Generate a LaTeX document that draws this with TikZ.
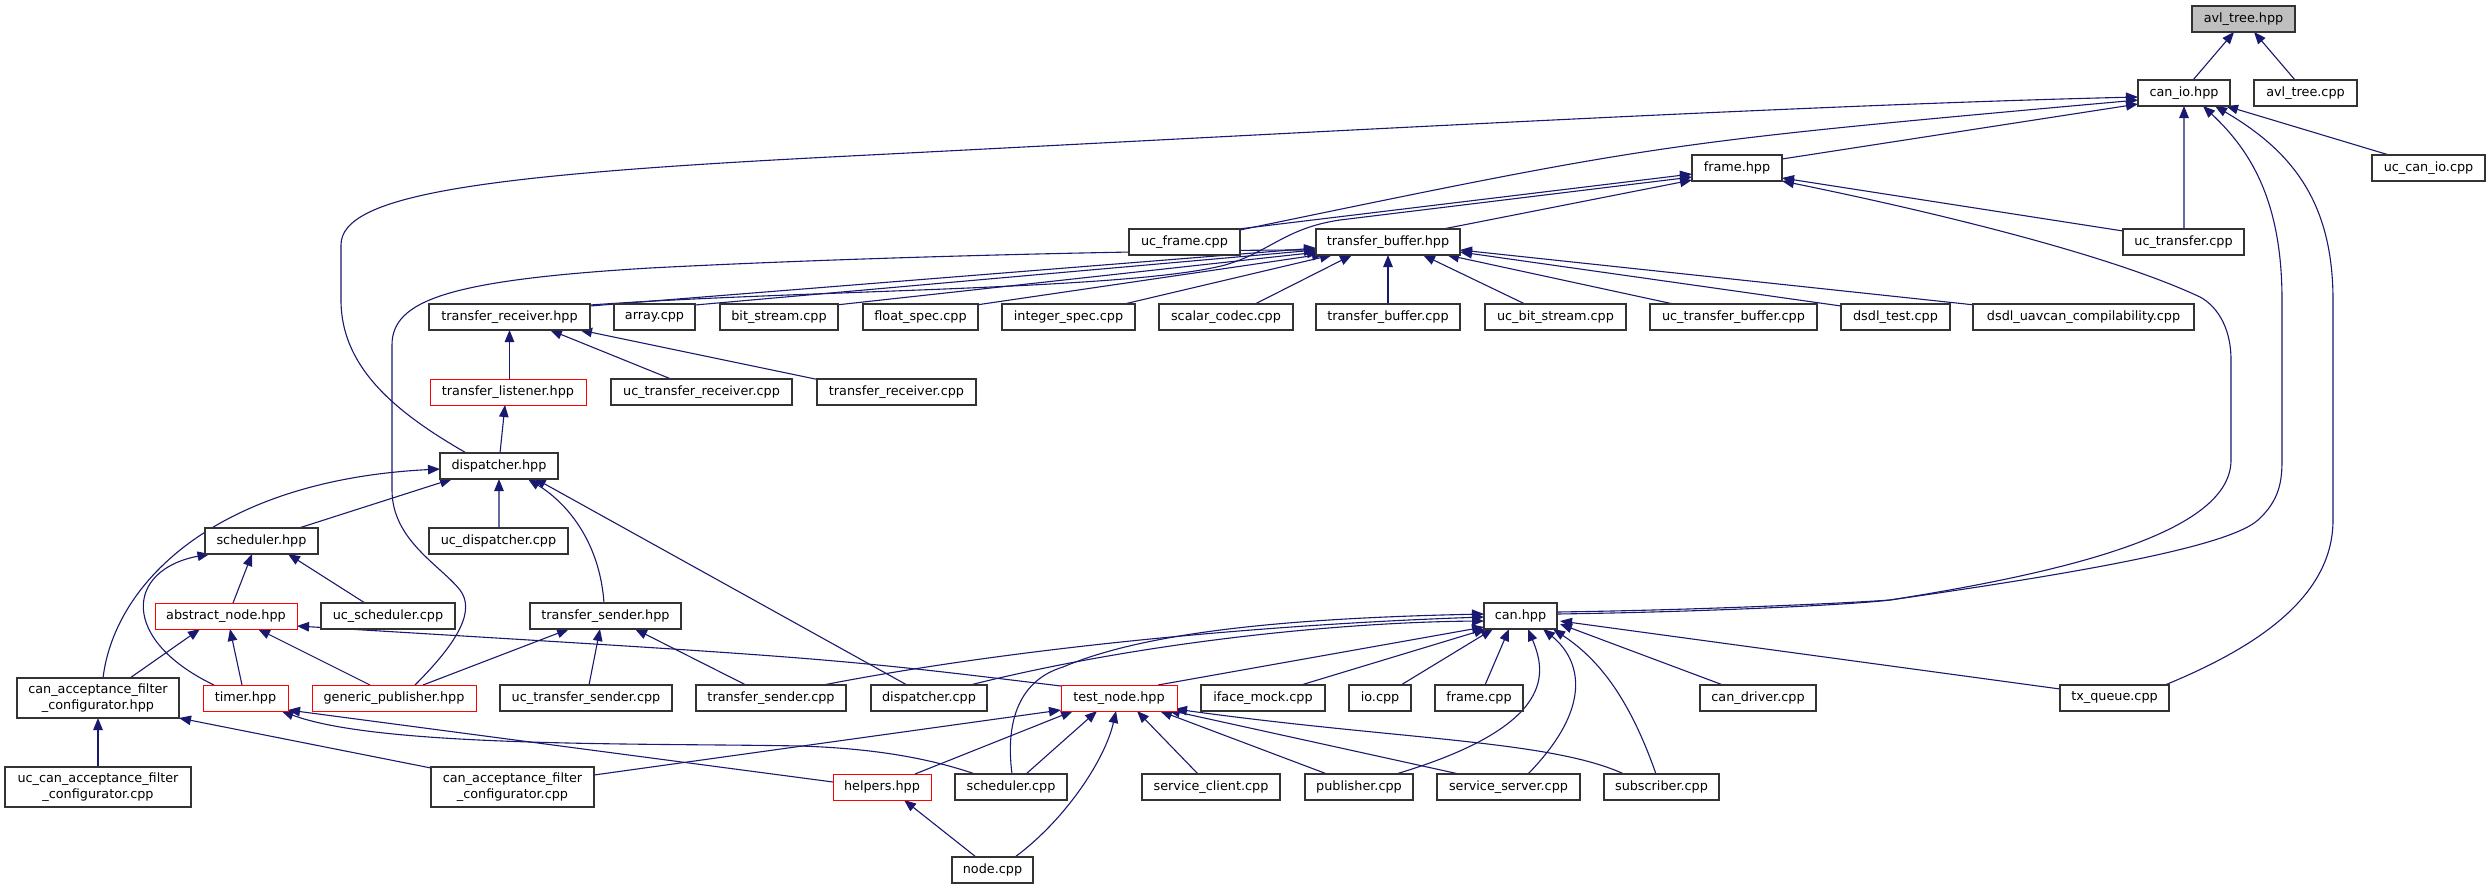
\documentclass[tikz,border=0pt]{standalone}
\usepackage{fontspec}
\newfontfamily\dvs{DejaVu Sans}
\usetikzlibrary{arrows.meta,calc}
\definecolor{edgeblue}{HTML}{191970}
\definecolor{boxgray}{HTML}{BFBFBF}
\pgfdeclarelayer{bg}
\pgfsetlayers{bg,main}
\begin{document}
\begin{tikzpicture}[x=1bp,y=-1bp,
  box/.style={draw=black!80, line width=1.3bp, fill=white, inner sep=0pt, minimum height=26bp,
    font=\dvs\fontsize{12.8bp}{15.5bp}\selectfont, text=black, align=center},
  redbox/.style={box, draw=red, line width=0.9bp},
  tallbox/.style={box, minimum height=40bp},
  edge/.style={draw=edgeblue, line width=1.1bp, -{Triangle[length=12bp,width=9.5bp]}}]
\useasboundingbox (0,0) rectangle (2489,888);
% row 0-3
\node[box,fill=boxgray,minimum width=103bp] (avlhpp) at (2243.5,19) {avl\_tree.hpp};
\node[box,minimum width=92bp] (canio) at (2184,93) {can\_io.hpp};
\node[box,minimum width=103bp] (avlcpp) at (2305.5,93) {avl\_tree.cpp};
\node[box,minimum width=90bp] (framehpp) at (1737,168) {frame.hpp};
\node[box,minimum width=113bp] (uccanio) at (2428.5,168) {uc\_can\_io.cpp};
\node[box,minimum width=111bp] (ucframe) at (1184.5,242) {uc\_frame.cpp};
\node[box,minimum width=144bp] (tbhpp) at (1388,242) {transfer\_buffer.hpp};
\node[box,minimum width=121bp] (uctransfer) at (2183.5,242) {uc\_transfer.cpp};
% row 4
\node[box,minimum width=161bp] (trhpp) at (509.5,317) {transfer\_receiver.hpp};
\node[box,minimum width=81bp] (arraycpp) at (654.5,317) {array.cpp};
\node[box,minimum width=118bp] (bitstream) at (779,317) {bit\_stream.cpp};
\node[box,minimum width=115bp] (floatspec) at (920.5,317) {float\_spec.cpp};
\node[box,minimum width=133bp] (intspec) at (1068.5,317) {integer\_spec.cpp};
\node[box,minimum width=134bp] (scalarcodec) at (1226,317) {scalar\_codec.cpp};
\node[box,minimum width=144bp] (tbcpp) at (1388,317) {transfer\_buffer.cpp};
\node[box,minimum width=141bp] (ucbitstream) at (1555.5,317) {uc\_bit\_stream.cpp};
\node[box,minimum width=167bp] (uctb) at (1733.5,317) {uc\_transfer\_buffer.cpp};
\node[box,minimum width=109bp] (dsdltest) at (1895.5,317) {dsdl\_test.cpp};
\node[box,minimum width=221bp] (dsdlcompat) at (2083.5,317) {dsdl\_uavcan\_compilability.cpp};
% row 5-7
\node[redbox,minimum width=156bp] (tlhpp) at (508,392) {transfer\_listener.hpp};
\node[box,minimum width=181bp] (uctr) at (701.5,392) {uc\_transfer\_receiver.cpp};
\node[box,minimum width=159bp] (trcpp) at (896.5,392) {transfer\_receiver.cpp};
\node[box,minimum width=118bp] (disphpp) at (499,466) {dispatcher.hpp};
\node[box,minimum width=113bp] (schedhpp) at (261.5,541) {scheduler.hpp};
\node[box,minimum width=139bp] (ucdisp) at (498.5,541) {uc\_dispatcher.cpp};
% row 8
\node[redbox,minimum width=142bp] (absnode) at (226,616) {abstract\_node.hpp};
\node[box,minimum width=134bp] (ucsched) at (388,616) {uc\_scheduler.cpp};
\node[box,minimum width=151bp] (tshpp) at (605.5,616) {transfer\_sender.hpp};
\node[box,minimum width=73bp] (canhpp) at (1520.5,616) {can.hpp};
% row 9
\node[tallbox,minimum width=162bp] (cafchpp) at (98,698) {can\_acceptance\_filter\\\_configurator.hpp};
\node[redbox,minimum width=85bp] (timer) at (245.5,698) {timer.hpp};
\node[redbox,minimum width=164bp] (genpub) at (394,698) {generic\_publisher.hpp};
\node[box,minimum width=172bp] (uctsender) at (586,698) {uc\_transfer\_sender.cpp};
\node[box,minimum width=150bp] (tscpp) at (771,698) {transfer\_sender.cpp};
\node[box,minimum width=116bp] (dispcpp) at (929,698) {dispatcher.cpp};
\node[redbox,minimum width=116bp] (testnode) at (1119,698) {test\_node.hpp};
\node[box,minimum width=124bp] (ifacemock) at (1263,698) {iface\_mock.cpp};
\node[box,minimum width=62bp] (iocpp) at (1380,698) {io.cpp};
\node[box,minimum width=88bp] (framecpp) at (1479,698) {frame.cpp};
\node[box,minimum width=116bp] (candriver) at (1758,698) {can\_driver.cpp};
\node[box,minimum width=109bp] (txqueue) at (2114.5,698) {tx\_queue.cpp};
% row 10-11
\node[tallbox,minimum width=186bp] (uccafc) at (98,787) {uc\_can\_acceptance\_filter\\\_configurator.cpp};
\node[tallbox,minimum width=163bp] (cafccpp) at (512.5,787) {can\_acceptance\_filter\\\_configurator.cpp};
\node[redbox,minimum width=98bp] (helpers) at (882,787) {helpers.hpp};
\node[box,minimum width=112bp] (schedcpp) at (1011,787) {scheduler.cpp};
\node[box,minimum width=138bp] (svcclient) at (1211,787) {service\_client.cpp};
\node[box,minimum width=108bp] (publisher) at (1359,787) {publisher.cpp};
\node[box,minimum width=143bp] (svcserver) at (1508.5,787) {service\_server.cpp};
\node[box,minimum width=115bp] (subscriber) at (1661.5,787) {subscriber.cpp};
\node[box,minimum width=81bp] (nodecpp) at (992.5,870) {node.cpp};

\begin{pgfonlayer}{bg}
\fill[white] (0,0) rectangle (2489,888);
% avl_tree.hpp
\draw[edge] ($(canio)+(9,-13)$) -- ($(avlhpp)+(-9.5,13)$);
\draw[edge] ($(avlcpp)+(-10.5,-13)$) -- ($(avlhpp)+(10.5,13)$);
% can_io.hpp
\draw[edge] ($(framehpp)+(45,-9)$) -- ($(canio)+(-46,11)$);
\draw[edge] ($(ucframe)+(55.5,-12)$) .. controls (1660,143) .. ($(canio)+(-46,7)$);
\draw[edge] ($(disphpp)+(-31,-12)$) .. controls (400,415) and (341,370) .. (341,300) -- (341,245)
  .. controls (341,195) and (480,175) .. (830,157) .. controls (1300,133) and (1800,105) .. ($(canio)+(-46,4)$);
\draw[edge] ($(uccanio)+(-39.5,-13)$) -- ($(canio)+(42,13)$);
\draw[edge] ($(uctransfer)+(0.5,-13)$) -- ($(canio)+(0,13)$);
\draw[edge] ($(canhpp)+(36.5,-4)$) .. controls (1700,610) and (1850,603) .. (1890,600)
  .. controls (2100,570) and (2230,545) .. (2258,520) .. controls (2280,500) and (2282,480) .. (2282,460)
  -- (2282,300) .. controls (2282,200) and (2250,150) .. ($(canio)+(19,13)$);
\draw[edge] ($(txqueue)+(50.5,-13)$) .. controls (2250,650) and (2333,600) .. (2333,520) -- (2333,300)
  .. controls (2333,200) and (2290,150) .. ($(canio)+(31,13)$);
% frame.hpp
\draw[edge] ($(ucframe)+(54,-13)$) -- ($(framehpp)+(-45,6)$);
\draw[edge] ($(tbhpp)+(55,-13)$) -- ($(framehpp)+(-45,12)$);
\draw[edge] ($(trhpp)+(80.5,-12)$) .. controls (800,290) and (1130,290) .. (1225,265)
  .. controls (1270,252) and (1285,228) .. (1340,220) -- ($(framehpp)+(-45,9)$);
\draw[edge] ($(uctransfer)+(-60.5,-11)$) -- ($(framehpp)+(45,10)$);
\draw[edge] ($(canhpp)+(36.5,-2)$) .. controls (1700,612) and (1850,605) .. (1890,600)
  .. controls (2080,570) and (2231,530) .. (2231,460) -- (2231,360)
  .. controls (2231,325) and (2215,305) .. (2200,297) .. controls (2100,250) and (1900,205) .. ($(framehpp)+(45,13)$);
% transfer_buffer.hpp
\draw[edge] ($(trhpp)+(80.5,-11)$) -- ($(tbhpp)+(-72,6)$);
\draw[edge] ($(arraycpp)+(40.5,-12)$) -- ($(tbhpp)+(-72,8)$);
\draw[edge] ($(bitstream)+(57,-12)$) -- ($(tbhpp)+(-69,10)$);
\draw[edge] ($(floatspec)+(55.5,-12)$) -- ($(tbhpp)+(-64,12)$);
\draw[edge] ($(intspec)+(51.5,-12)$) -- ($(tbhpp)+(-56,13)$);
\draw[edge] ($(genpub)+(21,-13)$) .. controls (460,640) and (475,610) .. (460,590)
  .. controls (440,565) and (392,540) .. (392,490) -- (392,345)
  .. controls (392,300) and (450,280) .. (650,268) .. controls (900,255) and (1200,250) .. ($(tbhpp)+(-72,8)$);
\draw[edge] ($(scalarcodec)+(27,-12)$) -- ($(tbhpp)+(-36,13)$);
\draw[edge] ($(tbcpp)+(0,-13)$) -- ($(tbhpp)+(0,13)$);
\draw[edge] ($(ucbitstream)+(-28.5,-12)$) -- ($(tbhpp)+(35,13)$);
\draw[edge] ($(uctb)+(-55.5,-12)$) -- ($(tbhpp)+(59,13)$);
\draw[edge] ($(dsdltest)+(-54.5,-11)$) -- ($(tbhpp)+(72,10)$);
\draw[edge] ($(dsdlcompat)+(-108.5,-12)$) -- ($(tbhpp)+(72,8)$);
% transfer_receiver.hpp
\draw[edge] ($(tlhpp)+(1.5,-13)$) -- ($(trhpp)+(0,13)$);
\draw[edge] ($(uctr)+(-30.5,-13)$) -- ($(trhpp)+(40.5,13)$);
\draw[edge] ($(trcpp)+(-76.5,-12)$) -- ($(trhpp)+(70.5,13)$);
% transfer_listener / dispatcher
\draw[edge] ($(disphpp)+(1,-13)$) -- ($(tlhpp)+(-3,13)$);
\draw[edge] ($(cafchpp)+(5,-20)$) .. controls (115,580) and (220,480) .. ($(disphpp)+(-59,3)$);
\draw[edge] ($(schedhpp)+(37.5,-13)$) -- ($(disphpp)+(-47,13)$);
\draw[edge] ($(ucdisp)+(0.5,-13)$) -- ($(disphpp)+(0,13)$);
\draw[edge] ($(tshpp)+(-1.5,-13)$) .. controls (600,545) and (570,505) .. ($(disphpp)+(29,13)$);
\draw[edge] ($(dispcpp)+(-22,-13)$) -- ($(disphpp)+(35,12)$);
% scheduler.hpp
\draw[edge] ($(timer)+(-31.5,-13)$) .. controls (120,640) and (125,570) .. ($(schedhpp)+(-52,13)$);
\draw[edge] ($(absnode)+(7,-13)$) -- ($(schedhpp)+(-9.5,13)$);
\draw[edge] ($(ucsched)+(-23,-13)$) -- ($(schedhpp)+(26.5,13)$);
% abstract_node.hpp
\draw[edge] ($(cafchpp)+(32,-20)$) -- ($(absnode)+(-26,13)$);
\draw[edge] ($(timer)+(-3.5,-13)$) -- ($(absnode)+(4,13)$);
\draw[edge] ($(genpub)+(-24,-13)$) -- ($(absnode)+(32,13)$);
\draw[edge] ($(testnode)+(-58,-12)$) .. controls (830,658) .. ($(absnode)+(71,10)$);
% transfer_sender.hpp
\draw[edge] ($(genpub)+(29,-13)$) -- ($(tshpp)+(-36.5,13)$);
\draw[edge] ($(uctsender)+(3,-13)$) -- ($(tshpp)+(-5.5,13)$);
\draw[edge] ($(tscpp)+(-25,-13)$) -- ($(tshpp)+(29.5,13)$);
% can_acceptance_filter_configurator.hpp
\draw[edge] ($(cafccpp)+(-81.5,-19)$) -- ($(cafchpp)+(81,20)$);
\draw[edge] ($(uccafc)+(0,-20)$) -- ($(cafchpp)+(0,20)$);
% timer.hpp
\draw[edge] ($(schedcpp)+(-36,-13)$) .. controls (920,755) and (860,748) .. (800,746)
  .. controls (650,743) and (380,748) .. ($(timer)+(36,13)$);
\draw[edge] ($(helpers)+(-49,-5)$) -- ($(timer)+(42.5,12)$);
% test_node.hpp
\draw[edge] ($(cafccpp)+(81.5,-12)$) -- ($(testnode)+(-58,12)$);
\draw[edge] ($(helpers)+(33,-13)$) -- ($(testnode)+(-46,13)$);
\draw[edge] ($(schedcpp)+(15,-13)$) -- ($(testnode)+(-22,13)$);
\draw[edge] ($(nodecpp)+(22.5,-13)$) .. controls (1065,820) and (1105,760) .. ($(testnode)+(-3,13)$);
\draw[edge] ($(svcclient)+(-13,-13)$) -- ($(testnode)+(18,13)$);
\draw[edge] ($(publisher)+(-32,-13)$) -- ($(testnode)+(41,13)$);
\draw[edge] ($(svcserver)+(-49.5,-13)$) -- ($(testnode)+(49,12)$);
\draw[edge] ($(subscriber)+(-37.5,-13)$) .. controls (1550,740) and (1400,740) .. ($(testnode)+(56,11)$);
% helpers.hpp
\draw[edge] ($(nodecpp)+(-16.5,-13)$) -- ($(helpers)+(22,13)$);
% can.hpp
\draw[edge] ($(tscpp)+(47,-12)$) .. controls (1000,650) and (1250,625) .. ($(canhpp)+(-36.5,1)$);
\draw[edge] ($(dispcpp)+(41,-13)$) .. controls (1150,640) and (1350,622) .. ($(canhpp)+(-36.5,5)$);
\draw[edge] ($(schedcpp)+(1,-13)$) .. controls (1005,720) and (1020,680) .. (1063,667)
  .. controls (1150,630) and (1300,618) .. ($(canhpp)+(-36.5,-2)$);
\draw[edge] ($(testnode)+(39,-13)$) -- ($(canhpp)+(-36.5,11)$);
\draw[edge] ($(ifacemock)+(38,-13)$) -- ($(canhpp)+(-34.5,13)$);
\draw[edge] ($(iocpp)+(21,-13)$) -- ($(canhpp)+(-27.5,13)$);
\draw[edge] ($(framecpp)+(6,-13)$) -- ($(canhpp)+(-11.5,13)$);
\draw[edge] ($(publisher)+(37,-13)$) .. controls (1560,725) and (1545,670) .. ($(canhpp)+(7.5,13)$);
\draw[edge] ($(svcserver)+(19.5,-13)$) .. controls (1600,700) and (1575,655) .. ($(canhpp)+(22.5,13)$);
\draw[edge] ($(subscriber)+(-5.5,-13)$) .. controls (1630,700) and (1600,660) .. ($(canhpp)+(32.5,13)$);
\draw[edge] ($(candriver)+(-35,-13)$) -- ($(canhpp)+(39.5,8)$);
\draw[edge] ($(txqueue)+(-54.5,-9)$) -- ($(canhpp)+(39.5,5)$);
\end{pgfonlayer}
\end{tikzpicture}
\end{document}
